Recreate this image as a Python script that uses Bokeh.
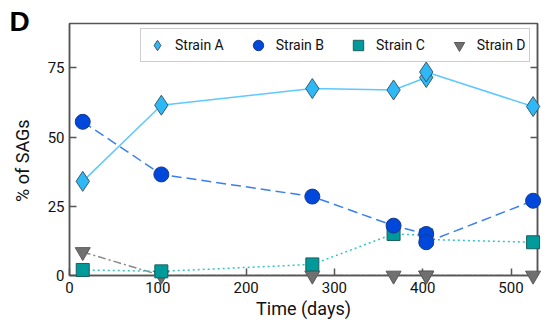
from bokeh.plotting import figure
from bokeh.models import Range1d, LinearAxis, Legend, LegendItem, FixedTicker
from bokeh.core.properties import value
from bokeh.embed import file_html
from bokeh.resources import INLINE

days = [15, 104, 275, 367, 404, 404, 525]
strain_a = [34, 61.5, 67.5, 67, 71.5, 73.5, 61]
strain_b = [55.5, 36.5, 28.5, 18, 15, 12, 27]
strain_c = [2, 1.5, 4, 15, 14.5, 13, 12]
strain_d = [8.5, 0, 0, 0, 0, 0, 0]
x_ticks = [0, 100, 200, 300, 400, 500]
y_ticks = [0, 25, 50, 75]
x_max, y_max = 530, 91

FONT = "Roboto"
AX = "#555555"

p = figure(width=554, height=327, output_backend="svg", toolbar_location=None,
           x_range=Range1d(0, x_max), y_range=Range1d(0, y_max),
           min_border_left=69, min_border_right=17, min_border_top=23, min_border_bottom=52)
p.grid.visible = False
p.outline_line_color = AX
p.outline_line_width = 1.5
p.background_fill_color = "white"

for ax in [p.xaxis[0], p.yaxis[0]]:
    ax.axis_line_color = AX
    ax.axis_line_width = 1.5
    ax.major_tick_in = 7
    ax.major_tick_out = 0
    ax.major_tick_line_color = AX
    ax.major_tick_line_width = 1.5
    ax.minor_tick_line_color = None
    ax.major_label_text_font = FONT
    ax.major_label_text_font_size = "15px"
    ax.major_label_text_color = "#111111"
    ax.axis_label_text_font = FONT
    ax.axis_label_text_font_size = "18px"
    ax.axis_label_text_font_style = "normal"
    ax.axis_label_text_color = "#111111"
p.xaxis[0].ticker = FixedTicker(ticks=x_ticks)
p.yaxis[0].ticker = FixedTicker(ticks=y_ticks)
p.xaxis[0].axis_label = "Time (days)"
p.yaxis[0].axis_label = "% of SAGs" + "\u00a0" * 5
p.xaxis[0].axis_label_standoff = 2
p.yaxis[0].axis_label_standoff = 12
p.xaxis[0].major_label_standoff = 6

ra = LinearAxis(ticker=FixedTicker(ticks=y_ticks),
                major_label_overrides={t: "" for t in y_ticks},
                axis_line_color=AX, axis_line_width=1.5, major_tick_in=7, major_tick_out=0,
                major_tick_line_color=AX, major_tick_line_width=1.5, minor_tick_line_color=None,
                major_label_standoff=0)
p.add_layout(ra, "right")

# lines
p.line(days, strain_d, line_color="#888888", line_width=1.5, line_dash="8 3 2 3")
p.line(days, strain_c, line_color="#33c4c4", line_width=1.5, line_dash="2 3")
p.line(days, strain_b, line_color="#3a7ff0", line_width=1.5, line_dash="10 5")
p.line(days, strain_a, line_color="#5ec8ff", line_width=1.5)

rd = p.scatter(days, strain_d, marker="inverted_triangle", size=15, fill_color="#707070",
               line_color="#5a5a5a", line_width=1)
rc = p.scatter(days, strain_c, marker="square", size=13, fill_color="#009a9a",
               line_color="#1a5f5f", line_width=1)
rb = p.scatter(days, strain_b, marker="circle", size=15, fill_color="#0048dc",
               line_color="#1a3a8a", line_width=1)
rA = p.scatter(days, strain_a, marker="diamond", size=20, fill_color="#2fb8f6",
               line_color="#3d5a6a", line_width=1)
for r in [rd, rc, rb, rA]:
    r.level = "overlay"

legend = Legend(items=[LegendItem(label="Strain A", renderers=[rA]),
                       LegendItem(label="Strain B", renderers=[rb]),
                       LegendItem(label="Strain C", renderers=[rc]),
                       LegendItem(label="Strain D", renderers=[rd])],
                orientation="horizontal", location=(71, 213),
                label_text_font=FONT, label_text_font_size="14px", label_text_color="#111111",
                border_line_color="#999999", border_line_width=1.5,
                spacing=21, padding=3, margin=0, glyph_width=26, glyph_height=26,
                label_standoff=5, background_fill_alpha=1)
p.add_layout(legend, "center")

# panel letter, anchored at the frame's top-left corner
letter = p.text(x=[0], y=[y_max], text=["D"], x_offset=-60, y_offset=-18,
                text_font=value("Liberation Sans"), text_font_style="bold",
                text_font_size="28px", text_baseline="top", text_color="black")
letter.level = "overlay"

open("out.html", "w").write(file_html(p, INLINE))
